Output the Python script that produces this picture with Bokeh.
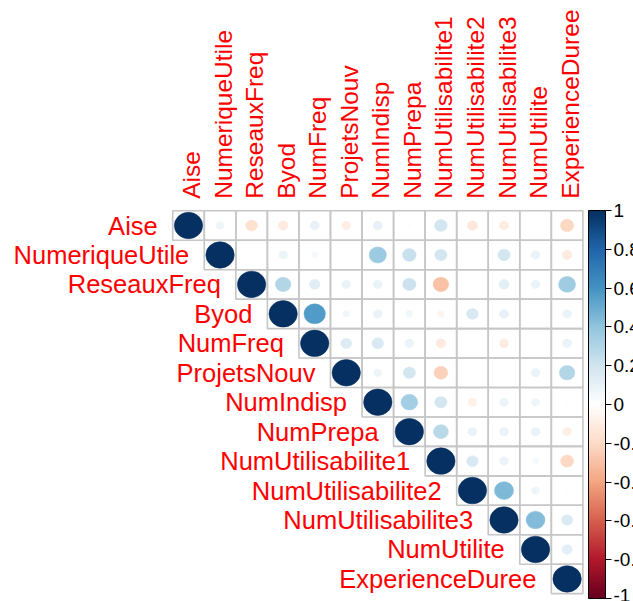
import numpy as np
from bokeh.plotting import figure
from bokeh.models import (Range1d, ColumnDataSource, ColorBar, LinearColorMapper,
                          FixedTicker, CustomJSTickFormatter)
from bokeh.core.properties import value
from bokeh.embed import file_html
from bokeh.resources import INLINE

# ---- data ----
names = ["Aise", "NumeriqueUtile", "ReseauxFreq", "Byod", "NumFreq", "ProjetsNouv",
         "NumIndisp", "NumPrepa", "NumUtilisabilite1", "NumUtilisabilite2",
         "NumUtilisabilite3", "NumUtilite", "ExperienceDuree"]

# upper triangle correlations (row i, columns i+1 .. end)
upper_aise = [0.08, -0.17, -0.12, 0.11, -0.10, 0.11, 0.02, 0.20, -0.13, -0.11, -0.01, -0.22]
upper_numeriqueutile = [-0.01, 0.09, 0.05, 0.005, 0.37, 0.23, 0.19, 0.01, 0.19, 0.10, -0.12]
upper_reseauxfreq = [0.30, 0.14, 0.10, 0.10, 0.22, -0.30, 0.01, 0.13, 0.10, 0.36]
upper_byod = [0.57, 0.065, 0.10, 0.065, -0.06, 0.17, 0.11, 0.01, 0.10]
upper_numfreq = [0.15, 0.17, 0.10, -0.12, 0.01, -0.11, 0.01, 0.10]
upper_projetsnouv = [0.08, 0.19, -0.24, -0.01, 0.005, 0.10, 0.30]
upper_numindisp = [0.35, 0.19, -0.09, 0.09, 0.08, -0.02]
upper_numprepa = [0.28, 0.10, 0.10, 0.10, -0.10]
upper_numutil1 = [0.17, 0.10, 0.045, -0.21]
upper_numutil2 = [0.45, 0.08, -0.02]
upper_numutil3 = [0.44, 0.16]
upper_numutilite = [0.13]
upper_experience = []

upper_rows = [upper_aise, upper_numeriqueutile, upper_reseauxfreq, upper_byod, upper_numfreq,
              upper_projetsnouv, upper_numindisp, upper_numprepa, upper_numutil1,
              upper_numutil2, upper_numutil3, upper_numutilite, upper_experience]

cb_ticks = [-1.0, -0.8, -0.6, -0.4, -0.2, 0.0, 0.2, 0.4, 0.6, 0.8, 1.0]
cb_labels = ["-1", "-0.8", "-0.6", "-0.4", "-0.2", "0", "0.2", "0.4", "0.6", "0.8", "1"]

# ---- palette (corrplot RdBu, 200 colours) ----
anchors = ["#67001F", "#B2182B", "#D6604D", "#F4A582", "#FDDBC7", "#FFFFFF",
           "#D1E5F0", "#92C5DE", "#4393C3", "#2166AC", "#053061"]
anc = np.array([[int(h[i:i + 2], 16) for i in (1, 3, 5)] for h in anchors], dtype=float)
t_anc = np.linspace(0, 1, len(anchors))
t_pal = np.linspace(0, 1, 200)
pal_rgb = np.stack([np.interp(t_pal, t_anc, anc[:, k]) for k in range(3)], axis=1)
palette = ["#%02x%02x%02x" % tuple(int(round(c)) for c in row) for row in pal_rgb]

def col_for(r):
    return palette[int(round((r + 1) / 2 * 199))]

# ---- cells ----
xs, ys, rs = [], [], []
n = len(names)
for i in range(n):
    row_vals = [1.0] + upper_rows[i]
    for k, r in enumerate(row_vals):
        xs.append(i + k)
        ys.append(i)
        rs.append(r)

size = [0.9 * np.sqrt(abs(r)) for r in rs]
cols = [col_for(r) for r in rs]
src = ColumnDataSource(dict(x=xs, y=ys, r=rs, w=size, c=cols))

# ---- figure ----
W, H = 633, 601
cw, ch = 31.55, 29.45          # cell size in px
x0, y0 = 188.0, 225.0          # px position of first cell centre
p = figure(width=W, height=H, output_backend="svg", toolbar_location=None,
           x_axis_location=None, y_axis_location=None,
           x_range=Range1d(-x0 / cw, (W - x0) / cw),
           y_range=Range1d((H - y0) / ch, -y0 / ch),
           min_border=0, min_border_left=0, min_border_right=0,
           min_border_top=0, min_border_bottom=0)
p.outline_line_color = None
p.grid.visible = False
p.background_fill_color = "white"
p.border_fill_color = "white"

p.rect("x", "y", width=1, height=1, source=src, fill_color=None,
       line_color="#c6c6c6", line_width=1.6)
p.ellipse("x", "y", width="w", height="w", source=src, fill_color="c",
          line_color="c", line_width=0.5)

idx = list(range(n))
lab_src = ColumnDataSource(dict(name=names, xr=[i - 0.5 for i in idx], yr=idx,
                                xc=idx, yc=[-0.5] * n))
p.text("xr", "yr", text="name", source=lab_src, text_align="right",
       text_baseline="middle", x_offset=-15, text_color="#FF0000",
       text_font=value("Liberation Sans"), text_font_size="25.5px")
p.text("xc", "yc", text="name", source=lab_src, angle=np.pi / 2, text_align="left",
       text_baseline="middle", y_offset=-12, x_offset=3, text_color="#FF0000",
       text_font=value("Liberation Sans"), text_font_size="24.5px")

mapper = LinearColorMapper(palette=palette, low=-1, high=1)
fmt = CustomJSTickFormatter(args=dict(tv=cb_ticks, tl=cb_labels), code="""
    for (let i = 0; i < tv.length; i++) {
        if (Math.abs(tv[i] - tick) < 1e-6) { return tl[i]; }
    }
    return "";
""")
cb = ColorBar(color_mapper=mapper, location=(588, 3), width=17, height=388,
              padding=0, margin=0, orientation="vertical",
              ticker=FixedTicker(ticks=cb_ticks), formatter=fmt,
              major_tick_in=0, major_tick_out=6, major_tick_line_color="black",
              minor_tick_line_color=None,
              bar_line_color="black", bar_line_width=1,
              border_line_color=None, background_fill_alpha=0,
              label_standoff=2, major_label_text_font_size="19px",
              major_label_text_font="Liberation Sans", major_label_text_color="black")
p.add_layout(cb)

open("out.html", "w").write(file_html(p, INLINE))
